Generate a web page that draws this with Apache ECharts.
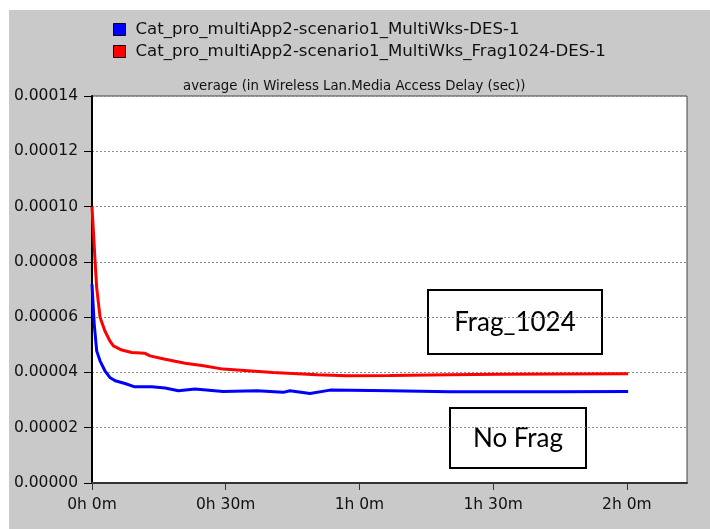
<!DOCTYPE html>
<html lang="en">
<head>
    <meta charset="UTF-8">
    <title>Media Access Delay</title>
    <style>
        html, body { margin: 0; padding: 0; background: #fff; }
        #page { position: relative; width: 710px; height: 529px; background: #fff; }
        #div_chart { position: absolute; left: 9px; top: 10px; width: 701px; height: 519px; }
    </style>
</head>
<body>
    <div id="page"><div id="div_chart"></div></div>
</body>
<script src="https://cdn.jsdelivr.net/npm/echarts@6/dist/echarts.min.js"></script>
<script type="text/javascript">
    // series names
    var nameNoFrag = 'Cat_pro_multiApp2-scenario1_MultiWks-DES-1';
    var nameFrag = 'Cat_pro_multiApp2-scenario1_MultiWks_Frag1024-DES-1';

    // time in minutes, value in seconds
    var noFragTime = [0, 0.5, 1.05, 1.8, 2.9, 4.0, 5.2, 7.4, 9.6, 13.4, 16.4, 19.4, 23.1, 29.4, 37, 42.9, 44.4, 48.9, 53.4, 66.9, 80.3, 91.5, 105, 120.3];
    var noFragValue = [7.19e-5, 5.75e-5, 4.78e-5, 4.42e-5, 4.06e-5, 3.82e-5, 3.70e-5, 3.60e-5, 3.48e-5, 3.48e-5, 3.44e-5, 3.34e-5, 3.40e-5, 3.31e-5, 3.34e-5, 3.28e-5, 3.34e-5, 3.24e-5, 3.36e-5, 3.34e-5, 3.30e-5, 3.30e-5, 3.30e-5, 3.31e-5];

    var fragTime = [0, 0.7, 1.05, 1.8, 2.9, 4.0, 4.8, 6.7, 8.9, 11.9, 13, 16.4, 20.9, 25, 29.4, 40.6, 50.5, 57.2, 66.9, 80.3, 91.5, 105, 120.3];
    var fragValue = [1.00e-4, 8.0e-5, 7.07e-5, 6.0e-5, 5.5e-5, 5.14e-5, 4.96e-5, 4.81e-5, 4.72e-5, 4.69e-5, 4.6e-5, 4.48e-5, 4.33e-5, 4.24e-5, 4.12e-5, 4.0e-5, 3.92e-5, 3.88e-5, 3.89e-5, 3.92e-5, 3.93e-5, 3.94e-5, 3.95e-5];

    var xTicks = [0, 30, 60, 90, 120];

    function pairs(t, v) {
        var out = [];
        for (var i = 0; i < t.length; i++) {
            out.push([t[i], v[i]]);
        }
        return out;
    }

    function timeLabel(m) {
        var h = Math.floor(m / 60);
        return h + 'h ' + Math.round(m - h * 60) + 'm';
    }

    window.onload = function () {
        var font = 'DejaVu Sans';
        var option = {
            backgroundColor: '#c9c9c9',
            animation: false,
            title: {
                text: 'average (in Wireless Lan.Media Access Delay (sec))',
                left: 174,
                top: 70,
                padding: 0,
                textStyle: { fontFamily: font, fontSize: 13.3, fontWeight: 'normal', color: '#111' }
            },
            legend: {
                orient: 'vertical',
                left: 104,
                top: 11,
                padding: 0,
                itemWidth: 12,
                itemHeight: 12,
                itemGap: 5,
                icon: 'rect',
                itemStyle: { borderColor: '#000', borderWidth: 1 },
                textStyle: { fontFamily: font, fontSize: 16.6, color: '#111', padding: [0, 0, 0, 5] },
                data: [nameNoFrag, nameFrag]
            },
            grid: {
                left: 83, top: 86, right: 23, bottom: 46,
                show: true,
                backgroundColor: '#fff',
                borderColor: '#444',
                borderWidth: 1
            },
            xAxis: {
                type: 'value',
                min: 0,
                max: 133.5,
                interval: 30,
                axisLine: { show: true, lineStyle: { color: '#333', width: 2 } },
                axisTick: { show: true, length: 7, customValues: xTicks, lineStyle: { color: '#333', width: 1 } },
                axisLabel: {
                    customValues: xTicks,
                    margin: 14,
                    fontFamily: font, fontSize: 15.5, color: '#111',
                    formatter: timeLabel
                },
                splitLine: { show: false }
            },
            yAxis: {
                type: 'value',
                min: 0,
                max: 0.00014,
                interval: 0.00002,
                axisLine: { show: true, lineStyle: { color: '#000', width: 2 } },
                axisTick: { show: true, length: 8, lineStyle: { color: '#000', width: 1 } },
                axisLabel: {
                    margin: 14,
                    fontFamily: font, fontSize: 15.5, color: '#111',
                    formatter: function (v) { return v.toFixed(5); }
                },
                splitLine: { show: true, lineStyle: { color: '#8a8a8a', type: [2, 2], width: 1 } }
            },
            series: [
                {
                    name: nameNoFrag,
                    type: 'line',
                    showSymbol: false,
                    smooth: false,
                    color: '#0000ff',
                    lineStyle: { width: 3, color: '#0000ff' },
                    data: pairs(noFragTime, noFragValue),
                    z: 3
                },
                {
                    name: nameFrag,
                    type: 'line',
                    showSymbol: false,
                    smooth: false,
                    color: '#ff0000',
                    lineStyle: { width: 3, color: '#ff0000' },
                    data: pairs(fragTime, fragValue),
                    z: 2
                }
            ],
            graphic: [
                {
                    type: 'group', left: 418, top: 279,
                    children: [
                        { type: 'rect', shape: { x: 0, y: 0, width: 174, height: 64 }, style: { fill: '#fff', stroke: '#000', lineWidth: 2 } },
                        { type: 'text', x: 87, y: 33, style: { text: 'Frag_1024', font: '26px Lato', fill: '#000', align: 'center', verticalAlign: 'middle' } }
                    ]
                },
                {
                    type: 'group', left: 440, top: 397,
                    children: [
                        { type: 'rect', shape: { x: 0, y: 0, width: 136, height: 60 }, style: { fill: '#fff', stroke: '#000', lineWidth: 2 } },
                        { type: 'text', x: 68, y: 31, style: { text: 'No Frag', font: '26px Lato', fill: '#000', align: 'center', verticalAlign: 'middle' } }
                    ]
                }
            ]
        };
        var echart = echarts.init(document.getElementById('div_chart'));
        echart.setOption(option);
    };
</script>
</html>
